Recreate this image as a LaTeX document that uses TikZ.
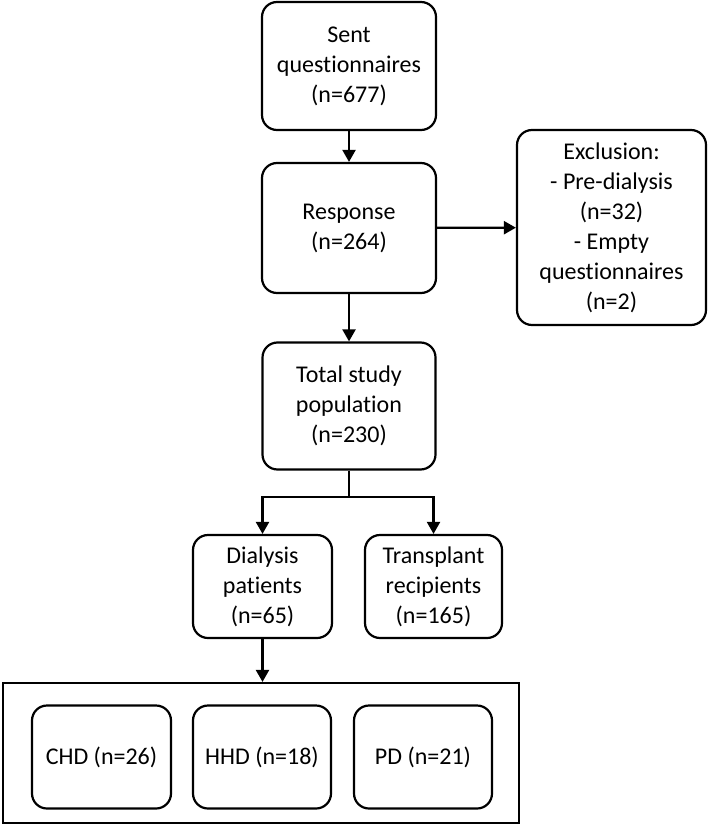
\documentclass[tikz,border=0pt]{standalone}
\usepackage{fontspec}
\setmainfont[Ligatures=NoCommon]{Carlito}
\usetikzlibrary{arrows.meta}
\begin{document}
	\begin{tikzpicture}
		[x=1pt,y=-1pt,
		font=\fontsize{24}{30}\selectfont,
		box/.style={draw,line width=2.2pt,rounded corners=15pt,fill=white,align=center,inner sep=0pt},
		arr/.style={line width=2.2pt,-{Triangle[width=13pt,length=12pt]}},]
		\useasboundingbox(0,0)rectangle(708,826);
		\node[box,minimum width=174pt,minimum height=128pt](sent)at(349,66){Sent\\questionnaires\\(n=677)};
		\node[box,minimum width=174pt,minimum height=130pt](resp)at(349,228){Response\\(n=264)};
		\node[box,minimum width=189pt,minimum height=195pt](excl)at(611.5,227.5){Exclusion:\\- Pre-dialysis\\(n=32)\\- Empty\\questionnaires\\(n=2)};
		\node[box,minimum width=173pt,minimum height=127pt](total)at(349,406){Total study\\population\\(n=230)};
		\node[box,minimum width=139pt,minimum height=103pt](dial)at(262.5,586.5){Dialysis\\patients\\(n=65)};
		\node[box,minimum width=137pt,minimum height=103pt](trans)at(433.5,586.5){Transplant\\recipients\\(n=165)};
		\node[draw,line width=2.2pt,minimum width=516pt,minimum height=140pt,inner sep=0pt](group)at(261,753){};
		\node[box,minimum width=139pt,minimum height=103pt](chd)at(101.5,757){CHD (n=26)};
		\node[box,minimum width=138pt,minimum height=103pt](hhd)at(262,757){HHD (n=18)};
		\node[box,minimum width=138pt,minimum height=103pt](pd)at(423,757){PD (n=21)};
		\draw[arr](sent)--(resp);
		\draw[arr](resp)--(excl);
		\draw[arr](resp)--(total);
		\draw[arr](total.south)--++(0,26)-|(dial.north);
		\draw[arr](total.south)--++(0,26)-|(trans.north);
		\draw[arr](dial.south)--(dial.south|-group.north);
	\end{tikzpicture}
\end{document}
